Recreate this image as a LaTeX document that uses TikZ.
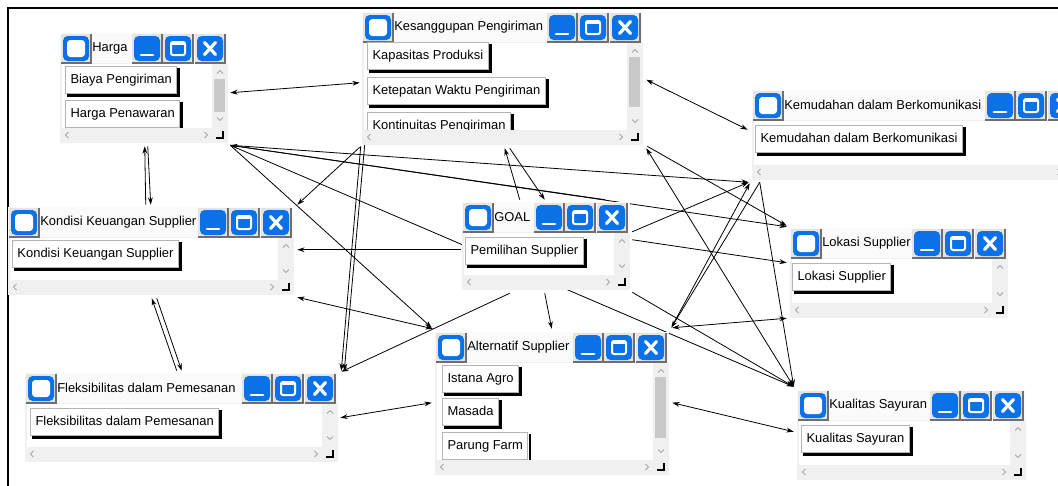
\documentclass[tikz,border=0pt]{standalone}
\usepackage{fontspec}
\setmainfont{Liberation Sans}
\usetikzlibrary{arrows.meta,fit,calc}
\pgfdeclarelayer{paper}
\pgfdeclarelayer{links}
\pgfsetlayers{paper,links,main}

\definecolor{frameGray}{HTML}{F0F0F0}
\definecolor{titleGray}{HTML}{FAFAFA}
\definecolor{btnBlue}{HTML}{0A72E6}
\definecolor{bevelDark}{HTML}{6E6E6E}
\definecolor{bevelLight}{HTML}{E4E4E4}
\definecolor{thumbGray}{HTML}{C9C9C9}
\definecolor{chevGray}{HTML}{A8A8A8}
\definecolor{itemEdge}{HTML}{B4B4B4}

\tikzset{
  every node/.style={font=\fontsize{9.7}{11}\selectfont},
  wtitle/.style={anchor=west, inner sep=0pt, text=black},
  itembox/.style={anchor=north west, draw=itemEdge, line width=0.75pt, fill=white,
    inner xsep=3.75pt, inner ysep=0pt, minimum height=20.5pt,
    text height=7.2pt, text depth=2pt, text=black},
  winarea/.style={inner sep=0pt},
  link/.style={line width=0.6pt, -{Stealth[length=5.5pt,width=3.6pt]}},
  dlink/.style={line width=0.6pt, {Stealth[length=5.5pt,width=3.6pt]}-{Stealth[length=5.5pt,width=3.6pt]}},
}

% beveled cell with a blue rounded face, 30 x 29 px
\newcommand{\bevelcell}[2]{%
  \fill[bevelLight] (#1,#2) rectangle ++(30,29);
  \draw[bevelDark, line width=1.1pt] (#1,#2+29) -- ++(30,0) -- ++(0,-29);
  \fill[btnBlue, rounded corners=3.5pt] (#1+2,#2+2) rectangle ++(26,25);
}
\newcommand{\checkglyph}[2]{\bevelcell{#1}{#2}%
  \fill[white, rounded corners=2.5pt] (#1+6,#2+6) rectangle (#1+24,#2+23);}
\newcommand{\minglyph}[2]{\bevelcell{#1}{#2}%
  \draw[white, line width=2pt, line cap=round] (#1+9,#2+21) -- (#1+21,#2+21);}
\newcommand{\maxglyph}[2]{\bevelcell{#1}{#2}%
  \draw[white, line width=1.5pt, rounded corners=1.5pt] (#1+8,#2+8) rectangle (#1+22,#2+21);
  \draw[white, line width=1.8pt] (#1+8,#2+9.5) -- (#1+22,#2+9.5);}
\newcommand{\closeglyph}[2]{\bevelcell{#1}{#2}%
  \draw[white, line width=2.4pt, line cap=round] (#1+9.5,#2+8.5) -- (#1+20.5,#2+20.5) (#1+9.5,#2+20.5) -- (#1+20.5,#2+8.5);}

% scrollbar chevrons and resize grip
\newcommand{\chevup}[2]{\draw[chevGray, line width=0.6pt] (#1-3,#2+1.5) -- (#1,#2-1.5) -- (#1+3,#2+1.5);}
\newcommand{\chevdown}[2]{\draw[chevGray, line width=0.6pt] (#1-3,#2-1.5) -- (#1,#2+1.5) -- (#1+3,#2-1.5);}
\newcommand{\chevleft}[2]{\draw[chevGray, line width=0.6pt] (#1+1.5,#2-3) -- (#1-1.5,#2) -- (#1+1.5,#2+3);}
\newcommand{\chevright}[2]{\draw[chevGray, line width=0.6pt] (#1-1.5,#2-3) -- (#1+1.5,#2) -- (#1-1.5,#2+3);}
\newcommand{\grip}[2]{\draw[black, line width=1pt] (#1-7,#2) -- (#1,#2) -- (#1,#2-7);}

% item button with a dark drop edge
\newcommand{\itembtn}[4]{%
  \node[itembox] (#1) at (#2,#3) {#4};
  \draw[black, line width=2.2pt] ($(#1.south west)+(2,1.5)$) -- ($(#1.south east)+(1.5,1.5)$) -- ($(#1.north east)+(1.5,2)$);
}

% cluster window: #1 name, #2 x0, #3 y0, #4 x1, #5 y1, #6 title, #7 contents
\newcommand{\winbox}[7]{%
  \fill[frameGray] (#2,#3) rectangle (#4,#5);
  \fill[titleGray] (#2,#3) rectangle (#4,#3+30);
  \fill[white] (#2+2,#3+31) rectangle (#4-16,#5-15);
  \checkglyph{#2+1}{#3+1}
  \node[wtitle] (#1-title) at (#2+32,#3+15) {#6};
  \minglyph{#4-96}{#3+1}
  \maxglyph{#4-65}{#3+1}
  \closeglyph{#4-33}{#3+1}
  #7
  \fill[frameGray] (#4-16,#3+31) rectangle (#4,#5);
  \fill[frameGray] (#2,#5-15) rectangle (#4,#5);
  \chevup{#4-8}{#3+39}
  \chevdown{#4-8}{#5-24}
  \chevleft{#2+7}{#5-8}
  \chevright{#4-22}{#5-8}
  \grip{#4-5}{#5-5}
  \node[winarea, fit={(#2,#3) (#4,#5)}] (#1) {};
}
\newcommand{\thumb}[3]{\fill[thumbGray] (#1-14,#2) rectangle (#1-3,#3);}

\begin{document}
\begin{tikzpicture}[x=0.75pt, y=-0.75pt]
\useasboundingbox (0,0) rectangle (1058,486);
\clip (0,0) rectangle (1058,486);
\begin{pgfonlayer}{paper}
\fill[white] (0,0) rectangle (1058,486);
\end{pgfonlayer}
\draw[black, line width=1.5pt] (8,487) -- (8,8) -- (1059,8);

\winbox{H}{60}{33}{228}{143}{Harga}{%
  \itembtn{h1}{65}{66}{Biaya Pengiriman}
  \itembtn{h2}{65}{100}{Harga Penawaran}}
\thumb{228}{79}{112}

\winbox{K}{362}{12}{643}{145}{Kesanggupan Pengiriman}{%
  \itembtn{k1}{367}{42}{Kapasitas Produksi}
  \itembtn{k2}{367}{77}{Ketepatan Waktu Pengiriman}
  \itembtn{k3}{367}{112}{Kontinuitas Pengiriman}}
\thumb{643}{57}{107}

\winbox{M}{752}{90}{1081}{180}{Kemudahan dalam Berkomunikasi}{%
  \itembtn{m1}{755}{125}{Kemudahan dalam Berkomunikasi}}

\winbox{D}{8}{207}{294}{295}{Kondisi Keuangan Supplier}{%
  \itembtn{d1}{12}{240}{Kondisi Keuangan Supplier}}

\winbox{G}{462}{202}{630}{290}{GOAL}{%
  \itembtn{g1}{465}{237}{Pemilihan Supplier}}

\winbox{L}{790}{228}{1008}{318}{Lokasi Supplier}{%
  \itembtn{l1}{792}{263}{Lokasi Supplier}}

\winbox{F}{25}{373}{338}{462}{Fleksibilitas dalam Pemesanan}{%
  \itembtn{f1}{30}{408}{Fleksibilitas dalam Pemesanan}}

\winbox{A}{435}{332}{669}{475}{Alternatif Supplier}{%
  \itembtn{a1}{442}{365}{Istana Agro}
  \itembtn{a2}{442}{398}{Masada}
  \itembtn{a3}{442}{432}{Parung Farm}}
\thumb{669}{377}{438}

\winbox{Q}{797}{390}{1026}{480}{Kualitas Sayuran}{%
  \itembtn{q1}{801}{425}{Kualitas Sayuran}}

\begin{pgfonlayer}{links}
% Harga
\draw[dlink] ($(H.north east)+(2,60)$) -- ($(K.north west)+(-2,71)$);
\draw[link] ($(D.north west)+(138,-2)$) -- ($(H.south west)+(85,3)$);
\draw[link] ($(H.south west)+(88,3)$) -- ($(D.north west)+(143,-2)$);
\draw[link] ($(G.north east)+(-25,-2)$) -- ($(H.south east)+(2,2)$);
\draw[link] ($(H.south east)+(2,2)$) -- ($(A.north west)+(-3,-4)$);
\draw[link] ($(H.south east)+(2,2)$) -- ($(L.north west)+(-3,-1)$);
\draw[link] ($(H.south east)+(2,2)$) -- ($(M.south west)+(-3,2)$);
\draw[link] ($(H.south east)+(2,2)$) -- ($(Q.north west)+(-3,-3)$);
% Kondisi Keuangan
\draw[link] ($(F.north west)+(152,-2)$) -- ($(D.south west)+(144,3)$);
\draw[link] ($(D.south west)+(149,3)$) -- ($(F.north west)+(157,-2)$);
\draw[link] ($(G.north west)+(-1,48)$) -- ($(D.north east)+(3,43)$);
\draw[dlink] ($(A.north west)+(-2,-3)$) -- ($(D.south east)+(3,2)$);
\draw[link] ($(K.south west)+(-2,2)$) -- ($(D.north east)+(3,-2)$);
% Kesanggupan
\draw[link] ($(K.south west)+(-1,1)$) -- ($(F.north east)+(3,-2)$);
\draw[link] ($(K.south west)+(4,-12)$) -- ($(F.north east)+(6,-2)$);
\draw[link] ($(G.north west)+(58,-2)$) -- ($(K.south west)+(143,3)$);
\draw[link] ($(K.south west)+(148,3)$) -- ($(G.north west)+(83,-2)$);
\draw[dlink] ($(K.north east)+(3,68)$) -- ($(M.north west)+(-4,40)$);
\draw[dlink] ($(K.south east)+(3,3)$) -- ($(Q.north west)+(-3,-3)$);
\draw[link] ($(K.south east)+(4,1)$) -- ($(L.north west)+(-3,-2)$);
% GOAL
\draw[link] ($(G.north east)+(2,38)$) -- ($(L.north west)+(-3,35)$);
\draw[link] ($(G.north east)+(2,30)$) -- ($(M.south west)+(-3,2)$);
\draw[link] ($(G.south west)+(83,3)$) -- ($(A.north west)+(117,-3)$);
\draw[link] ($(G.south west)+(48,3)$) -- ($(F.north east)+(3,-1)$);
\draw[link] ($(G.south east)+(2,2)$) -- ($(Q.north west)+(-3,-3)$);
% Alternatif
\draw[dlink] ($(A.north east)+(3,71)$) -- ($(Q.north west)+(-3,42)$);
\draw[dlink] ($(A.north east)+(3,-4)$) -- ($(L.south west)+(-3,0)$);
\draw[dlink] ($(A.north west)+(-3,71)$) -- ($(F.north east)+(2,45)$);
\draw[link] ($(M.south west)+(8,2)$) -- ($(A.north east)+(2,-4)$);
\draw[link] ($(A.north east)+(3,-6)$) -- ($(M.south west)+(-2,3)$);
\draw[link] ($(M.south west)+(8,2)$) -- ($(Q.north west)+(-3,-3)$);
\end{pgfonlayer}
\end{tikzpicture}
\end{document}
